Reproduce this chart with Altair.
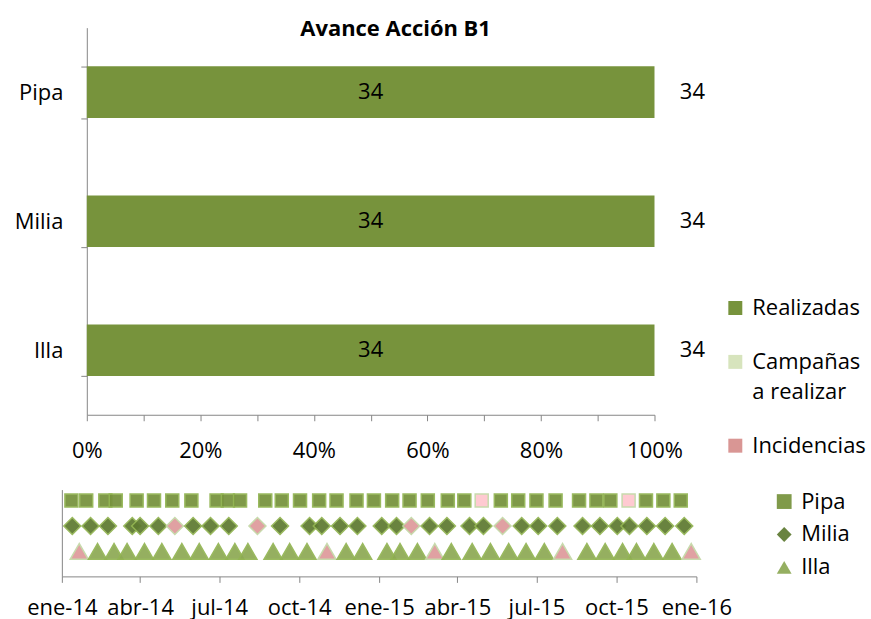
import json
import altair as alt
import pandas as pd

FONT = "Open Sans"

# ---------------- top chart data ----------------
grupos = ["Pipa", "Milia", "Illa"]
series_avance = ["Realizadas", "Campañas a realizar", "Incidencias"]
realizadas = [34, 34, 34]
campanas_a_realizar = [0, 0, 0]
incidencias = [0, 0, 0]
colores_avance = ["#77933C", "#D7E4BD", "#D99694"]
ticks_pct = [0, 0.1, 0.2, 0.3, 0.4, 0.5, 0.6, 0.7, 0.8, 0.9, 1.0]

# ---------------- timeline data ----------------
series_tl = ["Pipa", "Milia", "Illa"]
formas_tl = ["square", "diamond", "triangle-up"]
relleno_tl = ["#76923C", "#5E7A31", "#8DA955"]
relleno_incidencia = ["#FFC7CE", "#DE9A9C", "#DE9A9C"]
tamanos_tl = [170, 290, 330]
meses = ["ene", "feb", "mar", "abr", "may", "jun", "jul", "ago", "sep", "oct", "nov", "dic"]

pipa_fechas = [
    "2014-01-12", "2014-01-29", "2014-02-20", "2014-03-04", "2014-03-28", "2014-04-17",
    "2014-05-08", "2014-05-30", "2014-06-28", "2014-07-11", "2014-07-25", "2014-08-23",
    "2014-09-11", "2014-10-02", "2014-10-24", "2014-11-13", "2014-12-06", "2014-12-26",
    "2015-01-16", "2015-02-05", "2015-02-26", "2015-03-21", "2015-04-09", "2015-04-29",
    "2015-05-21", "2015-06-10", "2015-07-01", "2015-07-23", "2015-08-19", "2015-09-08",
    "2015-09-24", "2015-10-15", "2015-11-04", "2015-11-24", "2015-12-14",
]
pipa_incidencia = [0] * 23 + [1] + [0] * 7 + [1] + [0] * 3

milia_fechas = [
    "2014-01-13", "2014-02-03", "2014-02-23", "2014-03-23", "2014-04-01", "2014-04-22",
    "2014-05-11", "2014-06-01", "2014-06-21", "2014-07-12", "2014-08-14", "2014-09-09",
    "2014-10-13", "2014-10-27", "2014-11-17", "2014-12-07", "2015-01-04", "2015-01-21",
    "2015-02-07", "2015-02-28", "2015-03-20", "2015-04-15", "2015-05-01", "2015-05-23",
    "2015-06-14", "2015-07-03", "2015-07-25", "2015-08-23", "2015-09-12", "2015-10-02",
    "2015-10-16", "2015-11-05", "2015-11-26", "2015-12-18",
]
milia_incidencia = [0, 0, 0, 0, 0, 0, 1, 0, 0, 0, 1, 0, 0, 0, 0, 0, 0, 0,
                    1, 0, 0, 0, 0, 1, 0, 0, 0, 0, 0, 0, 0, 0, 0, 0]

illa_fechas = [
    "2014-01-21", "2014-02-11", "2014-03-02", "2014-03-17", "2014-04-06", "2014-04-26",
    "2014-05-19", "2014-06-08", "2014-06-30", "2014-07-19", "2014-08-03", "2014-09-01",
    "2014-09-20", "2014-10-10", "2014-11-02", "2014-11-24", "2014-12-13", "2015-01-10",
    "2015-01-25", "2015-02-14", "2015-03-06", "2015-03-25", "2015-04-18", "2015-05-09",
    "2015-05-30", "2015-06-19", "2015-07-10", "2015-07-31", "2015-08-28", "2015-09-18",
    "2015-10-08", "2015-10-24", "2015-11-13", "2015-12-04", "2015-12-26",
]
illa_incidencia = [1, 0, 0, 0, 0, 0, 0, 0, 0, 0, 0, 0, 0, 0, 1, 0, 0, 0,
                   0, 0, 1, 0, 0, 0, 0, 0, 0, 1, 0, 0, 0, 0, 0, 0, 1]

tick_fechas = [(2014, 1), (2014, 4), (2014, 7), (2014, 10), (2015, 1),
               (2015, 4), (2015, 7), (2015, 10), (2016, 1)]

# ---------------- build tables ----------------
rows = []
for i, g in enumerate(grupos):
    for j, (s, vals) in enumerate(zip(series_avance, [realizadas, campanas_a_realizar, incidencias])):
        rows.append({"grupo": g, "serie": s, "valor": vals[i], "orden": j})
df_top = pd.DataFrame(rows)

rows2 = []
for s, fechas, inc in [("Pipa", pipa_fechas, pipa_incidencia),
                       ("Milia", milia_fechas, milia_incidencia),
                       ("Illa", illa_fechas, illa_incidencia)]:
    for f, k in zip(fechas, inc):
        rows2.append({"linea": s, "fecha": f, "incidencia": k})
df_tl = pd.DataFrame(rows2)

# ---------------- top chart ----------------
base_top = alt.Chart(df_top)
y_top = alt.Y(
    "grupo:N", sort=grupos,
    scale=alt.Scale(paddingInner=0.6, paddingOuter=0.3),
    axis=alt.Axis(title=None, tickBand="extent", tickSize=6, labelPadding=18,
                  labelFontSize=22, labelLineHeight=24, labelColor="black",
                  domainColor="#868686", tickColor="#868686"),
)

bars = base_top.mark_bar().encode(
    x=alt.X("valor:Q", stack="normalize",
            scale=alt.Scale(domain=[0, 1], nice=False),
            axis=alt.Axis(title=None, values=ticks_pct, grid=False, tickSize=6,
                          labelPadding=20, labelFlush=False, labelOverlap=False,
                          labelExpr="round(datum.value * 100) % 20 == 0 ? format(datum.value, '.0%') : ''",
                          labelFontSize=22, labelLineHeight=24, labelColor="black",
                          domainColor="#868686", tickColor="#868686")),
    y=y_top,
    color=alt.Color("serie:N",
                    scale=alt.Scale(domain=series_avance, range=colores_avance),
                    legend=alt.Legend(title=None, orient="none", legendX=639, legendY=270,
                                      symbolType="square", symbolSize=196,
                                      symbolStrokeWidth=0, labelFontSize=22,
                                      labelColor="black", rowPadding=32, labelOffset=6,
                                      labelExpr="datum.label == 'Campañas a realizar' ? ['Campañas', 'a realizar'] : datum.label")),
    order=alt.Order("orden:Q"),
)

inner = base_top.transform_joinaggregate(
    total="sum(valor)", groupby=["grupo"]
).transform_filter(
    alt.datum.serie == "Realizadas"
).transform_calculate(
    centro="datum.valor / datum.total / 2"
).mark_text(font=FONT, fontSize=22, color="black").encode(
    x="centro:Q", y=alt.Y("grupo:N", sort=grupos), text="valor:Q"
)

outer = base_top.transform_aggregate(
    total="sum(valor)", groupby=["grupo"]
).transform_calculate(
    fin="datum.total / datum.total"
).mark_text(font=FONT, fontSize=22, color="black", dx=38).encode(
    x="fin:Q", y=alt.Y("grupo:N", sort=grupos), text="total:Q"
)

top = alt.layer(bars, inner, outer).properties(
    width=569, height=388,
    title=alt.Title("Avance Acción B1", font=FONT, fontSize=22, fontWeight="bold",
                    color="black", anchor="middle", baseline="middle", offset=0,
                    dx=25, dy=34),
)

# ---------------- timeline ----------------
def dt(y, m, d=1):
    return alt.DateTime(year=y, month=m, date=d, utc=True)

meses_js = json.dumps(meses)

x_tl = alt.X(
    "fecha:T",
    scale=alt.Scale(domain=[dt(2014, 1), dt(2016, 1)], range=[-25, 611], nice=False),
    axis=alt.Axis(title=None, values=[dt(y, m) for y, m in tick_fechas],
                  grid=False, tickSize=6, labelPadding=15, labelFlush=False,
                  labelOverlap=False,
                  labelExpr=meses_js + "[utcmonth(datum.value)] + '-' + utcFormat(datum.value, '%y')",
                  labelFontSize=22, labelLineHeight=24, labelColor="black",
                  domainColor="#868686", tickColor="#868686"),
)
y_tl = alt.Y(
    "linea:N", scale=alt.Scale(domain=series_tl, padding=0.706, align=0.305),
    axis=alt.Axis(title=None, labels=False, ticks=False, offset=25, domainColor="#868686"),
)
legend_tl = alt.Legend(title=None, orient="none", legendX=688, legendY=1,
                       symbolSize=220, symbolStrokeWidth=0,
                       labelFontSize=22, labelColor="black",
                       rowPadding=11, labelOffset=6)

base_tl = alt.Chart(df_tl)
capas = []
for s, tam, inc_col in zip(series_tl, tamanos_tl, relleno_incidencia):
    capas.append(
        base_tl.transform_filter(alt.datum.linea == s).mark_point(
            filled=True, size=tam, opacity=0.93, strokeWidth=1.5
        ).encode(
            x=x_tl,
            y=y_tl,
            shape=alt.Shape("linea:N", scale=alt.Scale(domain=series_tl, range=formas_tl),
                            legend=legend_tl),
            color=alt.Color("linea:N", scale=alt.Scale(domain=series_tl, range=relleno_tl),
                            legend=legend_tl,
                            condition=[{"test": "datum.incidencia == 1", "value": inc_col}]),
            stroke=alt.condition("datum.incidencia == 1", alt.value("#C4D8A6"),
                                 alt.value("#93B553")),
        )
    )

timeline = alt.layer(*capas).properties(width=611, height=87)

chart = alt.vconcat(top, timeline, spacing=28).resolve_scale(
    color="independent", shape="independent"
).resolve_legend(
    color="independent", shape="independent"
).properties(
    padding={"left": 14, "top": 16, "right": 5, "bottom": 0}
).configure(
    font=FONT, style={"guide-label": {"lineHeight": 30}}
).configure_view(stroke=None)

chart.save("out.html", embed_options={"renderer": "svg", "actions": False})
